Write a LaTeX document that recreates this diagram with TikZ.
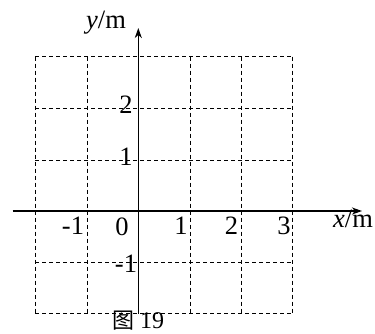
\documentclass[tikz,border=0pt]{standalone}
\usepackage{fontspec}
\setmainfont{Liberation Serif}
\newfontfamily\cjk{Noto Sans CJK SC}
\usetikzlibrary{arrows.meta}
\begin{document}
\begin{tikzpicture}[x=1pt,y=-1pt,
  gridline/.style={line width=0.9pt,dash pattern=on 4pt off 3pt},
  axisline/.style={line width=1.6pt,-{Stealth[length=10pt,width=7pt,inset=3pt]}},
  lbl/.style={inner sep=0pt,anchor=base,font=\fontsize{26.5}{26.5}\selectfont}]
\useasboundingbox (0,0) rectangle (375,334);
% grid
\foreach \x in {35,87.3,190,241.3,292.7}
  \draw[gridline] (\x,56.7) -- (\x,313.3);
\foreach \y in {56.7,108.3,160,262.3,313.3}
  \draw[gridline] (35,\y) -- (292.7,\y);
% axes
\coordinate (xs) at (12.5,211);
\coordinate (xe) at (362,211);
\coordinate (ys) at (138.3,313.5);
\coordinate (ye) at (138.3,28);
\draw[axisline] (xs) -- (xe);
\draw[axisline] (ys) -- (ye);
% labels
\node[lbl] (ylab) at (106,28.5) {\textit{y}/m};
\node[lbl] (xlab) at (353,227) {\textit{x}/m};
\node[lbl] (y2) at (126,113.3) {2};
\node[lbl] (y1) at (126,165) {1};
\node[lbl] (ym1) at (126,272) {-1};
\node[lbl] (o) at (122,235) {0};
\node[lbl] (xm1) at (73,234.5) {-1};
\node[lbl] (x1) at (181,234.5) {1};
\node[lbl] (x2) at (231.5,234.5) {2};
\node[lbl] (x3) at (284,234.5) {3};
\node[lbl,font=\fontsize{24}{24}\selectfont] (cap) at (138,328) {{\cjk\fontsize{22}{22}\selectfont 图} 19};
\end{tikzpicture}
\end{document}
